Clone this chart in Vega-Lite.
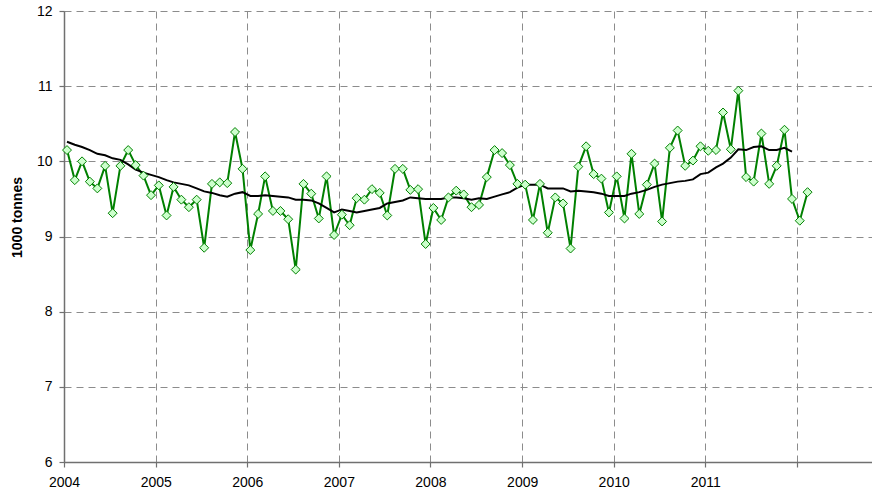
{
  "$schema": "https://vega.github.io/schema/vega-lite/v6.json",
  "width": 808,
  "height": 451,
  "autosize": {"type": "none"},
  "padding": {"left": 64, "top": 11, "right": 0, "bottom": 31},
  "background": "white",
  "config": {
    "view": {"stroke": null},
    "font": "Liberation Sans",
    "axis": {
      "labelFont": "Liberation Sans",
      "labelFontSize": 14,
      "labelColor": "#000000",
      "domainColor": "#707070",
      "domainWidth": 1.5,
      "tickColor": "#707070",
      "tickWidth": 1.2,
      "tickSize": 5,
      "gridColor": "#8c8c8c",
      "gridWidth": 1,
      "gridDash": [7, 5],
      "titleFont": "Liberation Sans"
    }
  },
  "data": {
    "values": [
      {"date": "2004-01-13", "value": 10.15, "trend": 10.26},
      {"date": "2004-02-13", "value": 9.75, "trend": 10.22},
      {"date": "2004-03-13", "value": 10.0, "trend": 10.19},
      {"date": "2004-04-13", "value": 9.73, "trend": 10.15},
      {"date": "2004-05-13", "value": 9.64, "trend": 10.1},
      {"date": "2004-06-13", "value": 9.94, "trend": 10.08},
      {"date": "2004-07-13", "value": 9.31, "trend": 10.04},
      {"date": "2004-08-13", "value": 9.94, "trend": 10.02},
      {"date": "2004-09-13", "value": 10.15, "trend": 9.96},
      {"date": "2004-10-13", "value": 9.95, "trend": 9.89},
      {"date": "2004-11-13", "value": 9.81, "trend": 9.85},
      {"date": "2004-12-13", "value": 9.55, "trend": 9.82},
      {"date": "2005-01-13", "value": 9.68, "trend": 9.79},
      {"date": "2005-02-13", "value": 9.28, "trend": 9.75},
      {"date": "2005-03-13", "value": 9.66, "trend": 9.72},
      {"date": "2005-04-13", "value": 9.49, "trend": 9.7},
      {"date": "2005-05-13", "value": 9.39, "trend": 9.68},
      {"date": "2005-06-13", "value": 9.49, "trend": 9.64},
      {"date": "2005-07-13", "value": 8.85, "trend": 9.6},
      {"date": "2005-08-13", "value": 9.7, "trend": 9.58},
      {"date": "2005-09-13", "value": 9.72, "trend": 9.55},
      {"date": "2005-10-13", "value": 9.71, "trend": 9.53},
      {"date": "2005-11-13", "value": 10.39, "trend": 9.57},
      {"date": "2005-12-13", "value": 9.9, "trend": 9.59},
      {"date": "2006-01-13", "value": 8.82, "trend": 9.54},
      {"date": "2006-02-13", "value": 9.3, "trend": 9.54},
      {"date": "2006-03-13", "value": 9.8, "trend": 9.55},
      {"date": "2006-04-13", "value": 9.34, "trend": 9.54},
      {"date": "2006-05-13", "value": 9.34, "trend": 9.53},
      {"date": "2006-06-13", "value": 9.23, "trend": 9.52},
      {"date": "2006-07-13", "value": 8.56, "trend": 9.49},
      {"date": "2006-08-13", "value": 9.7, "trend": 9.49},
      {"date": "2006-09-13", "value": 9.57, "trend": 9.48},
      {"date": "2006-10-13", "value": 9.24, "trend": 9.44},
      {"date": "2006-11-13", "value": 9.8, "trend": 9.38},
      {"date": "2006-12-13", "value": 9.02, "trend": 9.32},
      {"date": "2007-01-13", "value": 9.29, "trend": 9.36},
      {"date": "2007-02-13", "value": 9.15, "trend": 9.34},
      {"date": "2007-03-13", "value": 9.51, "trend": 9.32},
      {"date": "2007-04-13", "value": 9.49, "trend": 9.34},
      {"date": "2007-05-13", "value": 9.63, "trend": 9.36},
      {"date": "2007-06-13", "value": 9.58, "trend": 9.38},
      {"date": "2007-07-13", "value": 9.28, "trend": 9.44},
      {"date": "2007-08-13", "value": 9.9, "trend": 9.46},
      {"date": "2007-09-13", "value": 9.9, "trend": 9.48},
      {"date": "2007-10-13", "value": 9.62, "trend": 9.52},
      {"date": "2007-11-13", "value": 9.63, "trend": 9.51},
      {"date": "2007-12-13", "value": 8.9, "trend": 9.5},
      {"date": "2008-01-13", "value": 9.38, "trend": 9.5},
      {"date": "2008-02-13", "value": 9.22, "trend": 9.5},
      {"date": "2008-03-13", "value": 9.52, "trend": 9.52},
      {"date": "2008-04-13", "value": 9.61, "trend": 9.52},
      {"date": "2008-05-13", "value": 9.56, "trend": 9.51},
      {"date": "2008-06-13", "value": 9.39, "trend": 9.49},
      {"date": "2008-07-13", "value": 9.42, "trend": 9.51},
      {"date": "2008-08-13", "value": 9.79, "trend": 9.5},
      {"date": "2008-09-13", "value": 10.15, "trend": 9.53},
      {"date": "2008-10-13", "value": 10.11, "trend": 9.56},
      {"date": "2008-11-13", "value": 9.95, "trend": 9.59},
      {"date": "2008-12-13", "value": 9.7, "trend": 9.65},
      {"date": "2009-01-13", "value": 9.69, "trend": 9.69},
      {"date": "2009-02-13", "value": 9.22, "trend": 9.69},
      {"date": "2009-03-13", "value": 9.7, "trend": 9.69},
      {"date": "2009-04-13", "value": 9.05, "trend": 9.64},
      {"date": "2009-05-13", "value": 9.52, "trend": 9.64},
      {"date": "2009-06-13", "value": 9.44, "trend": 9.64},
      {"date": "2009-07-13", "value": 8.84, "trend": 9.6},
      {"date": "2009-08-13", "value": 9.93, "trend": 9.61},
      {"date": "2009-09-13", "value": 10.2, "trend": 9.6},
      {"date": "2009-10-13", "value": 9.83, "trend": 9.59},
      {"date": "2009-11-13", "value": 9.77, "trend": 9.57},
      {"date": "2009-12-13", "value": 9.32, "trend": 9.54},
      {"date": "2010-01-13", "value": 9.8, "trend": 9.54},
      {"date": "2010-02-13", "value": 9.24, "trend": 9.54},
      {"date": "2010-03-13", "value": 10.1, "trend": 9.57},
      {"date": "2010-04-13", "value": 9.3, "trend": 9.59},
      {"date": "2010-05-13", "value": 9.69, "trend": 9.62},
      {"date": "2010-06-13", "value": 9.97, "trend": 9.66},
      {"date": "2010-07-13", "value": 9.2, "trend": 9.69},
      {"date": "2010-08-13", "value": 10.18, "trend": 9.71},
      {"date": "2010-09-13", "value": 10.41, "trend": 9.73},
      {"date": "2010-10-13", "value": 9.94, "trend": 9.74},
      {"date": "2010-11-13", "value": 10.01, "trend": 9.76},
      {"date": "2010-12-13", "value": 10.2, "trend": 9.83},
      {"date": "2011-01-13", "value": 10.14, "trend": 9.85},
      {"date": "2011-02-13", "value": 10.15, "trend": 9.92},
      {"date": "2011-03-13", "value": 10.65, "trend": 9.97},
      {"date": "2011-04-13", "value": 10.16, "trend": 10.05},
      {"date": "2011-05-13", "value": 10.94, "trend": 10.16},
      {"date": "2011-06-13", "value": 9.79, "trend": 10.15},
      {"date": "2011-07-13", "value": 9.73, "trend": 10.19},
      {"date": "2011-08-13", "value": 10.37, "trend": 10.2},
      {"date": "2011-09-13", "value": 9.7, "trend": 10.15},
      {"date": "2011-10-13", "value": 9.94, "trend": 10.15},
      {"date": "2011-11-13", "value": 10.42, "trend": 10.18},
      {"date": "2011-12-13", "value": 9.5, "trend": 10.13},
      {"date": "2012-01-13", "value": 9.21, "trend": null},
      {"date": "2012-02-13", "value": 9.59, "trend": null}
    ]
  },
  "encoding": {
    "x": {
      "field": "date",
      "type": "temporal",
      "scale": {
        "type": "utc",
        "domain": [
          {"year": 2004, "month": 1, "date": 1, "utc": true},
          {"year": 2012, "month": 10, "date": 27, "utc": true}
        ]
      },
      "axis": {
        "title": null,
        "values": [
          {"year": 2004, "month": 1, "date": 1, "utc": true},
          {"year": 2005, "month": 1, "date": 1, "utc": true},
          {"year": 2006, "month": 1, "date": 1, "utc": true},
          {"year": 2007, "month": 1, "date": 1, "utc": true},
          {"year": 2008, "month": 1, "date": 1, "utc": true},
          {"year": 2009, "month": 1, "date": 1, "utc": true},
          {"year": 2010, "month": 1, "date": 1, "utc": true},
          {"year": 2011, "month": 1, "date": 1, "utc": true},
          {"year": 2012, "month": 1, "date": 1, "utc": true}
        ],
        "labelExpr": "utcyear(datum.value) == 2012 ? '' : utcFormat(datum.value, '%Y')",
        "labelPadding": 8,
        "labelFlush": false,
        "labelOverlap": false,
        "grid": true
      }
    }
  },
  "layer": [
    {
      "mark": {"type": "line", "color": "#008000", "strokeWidth": 2},
      "encoding": {
        "y": {
          "field": "value",
          "type": "quantitative",
          "scale": {"domain": [6, 12], "nice": false, "zero": false},
          "axis": {
            "title": "1000 tonnes",
            "titleFontSize": 14,
            "titleFontWeight": "bold",
            "titleColor": "#000000",
            "titleX": -47,
            "titleY": 206,
            "titleBaseline": "middle",
            "values": [6, 7, 8, 9, 10, 11, 12],
            "format": "d",
            "labelPadding": 7,
            "grid": true
          }
        }
      }
    },
    {
      "mark": {"type": "line", "color": "#000000", "strokeWidth": 2},
      "encoding": {
        "y": {"field": "trend", "type": "quantitative"}
      }
    },
    {
      "mark": {"type": "point", "shape": "diamond", "filled": true, "fill": "#ccffcc", "stroke": "#008000", "strokeWidth": 1, "size": 80, "opacity": 1},
      "encoding": {
        "y": {"field": "value", "type": "quantitative"}
      }
    }
  ]
}
